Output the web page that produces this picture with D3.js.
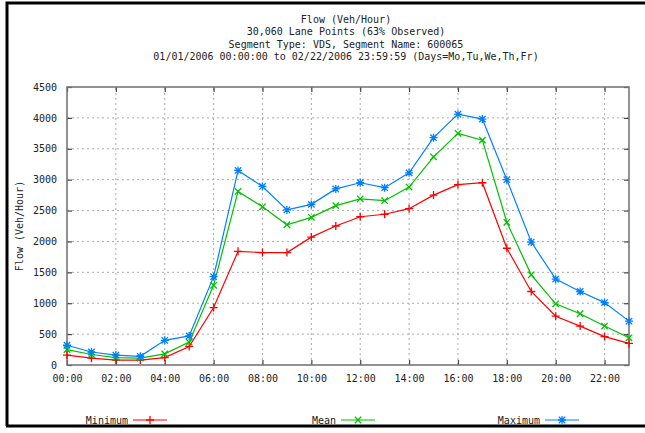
<!DOCTYPE html>
<html>
<head>
<meta charset="utf-8">
<script src="https://cdn.jsdelivr.net/npm/d3@7"></script>
<style>
    body { margin: 0; background: #fff; }
    text { font-family: "DejaVu Sans Mono", monospace; font-size: 10px; fill: #222; }
</style>
</head>
<body>
<div class="js-chart"></div>
<script>
'use strict';

//chart data
var hours = d3.range(0, 24);
var xTickHours = [0, 2, 4, 6, 8, 10, 12, 14, 16, 18, 20, 22];
var xTickLabels = ['00:00', '02:00', '04:00', '06:00', '08:00', '10:00',
    '12:00', '14:00', '16:00', '18:00', '20:00', '22:00'];
var yTicks = [0, 500, 1000, 1500, 2000, 2500, 3000, 3500, 4000, 4500];

var minimum = [160, 110, 80, 80, 120, 300, 930, 1840, 1820, 1820, 2070, 2250,
    2400, 2440, 2530, 2750, 2920, 2950, 1890, 1190, 790, 630, 460, 350];
var mean = [250, 170, 120, 110, 180, 370, 1290, 2810, 2560, 2270, 2390, 2580,
    2690, 2660, 2880, 3370, 3750, 3640, 2310, 1460, 990, 830, 630, 440];
var maximum = [320, 210, 160, 140, 400, 470, 1430, 3150, 2890, 2510, 2600, 2850,
    2950, 2870, 3110, 3680, 4060, 3980, 3000, 1990, 1390, 1190, 1010, 710];

var titleLines = [
    'Flow (Veh/Hour)',
    '30,060 Lane Points (63% Observed)',
    'Segment Type: VDS, Segment Name: 600065',
    '01/01/2006 00:00:00 to 02/22/2006 23:59:59 (Days=Mo,Tu,We,Th,Fr)'
];

var series = [
    { name: 'Minimum', values: minimum, color: '#ff0000', marker: 'plus', legendX: 128 },
    { name: 'Mean', values: mean, color: '#00c000', marker: 'cross', legendX: 336 },
    { name: 'Maximum', values: maximum, color: '#0080ff', marker: 'star', legendX: 540 }
];

var W = 645, H = 433;
var margin = { left: 67, top: 87, right: 16, bottom: 68 };

var svg = d3.select('.js-chart').append('svg')
    .attr('width', W)
    .attr('height', H);

//outer frame (left, top, bottom only - picture is cropped on the right)
svg.append('path')
    .attr('d', 'M 7 426 V 3 H ' + W)
    .style('fill', 'none')
    .style('stroke', '#000')
    .style('stroke-width', 3);
svg.append('line')
    .attr('x1', 6).attr('x2', W)
    .attr('y1', 426).attr('y2', 426)
    .style('stroke', '#000')
    .style('stroke-width', 3);

var x = d3.scaleLinear().domain([0, 23]).range([margin.left, W - margin.right]);
var y = d3.scaleLinear().domain([0, 4500]).range([H - margin.bottom, margin.top]);

//title
svg.append('g').selectAll('text')
    .data(titleLines)
    .enter()
    .append('text')
    .attr('x', 346)
    .attr('y', function (d, i) { return 23 + i * 12.4; })
    .attr('text-anchor', 'middle')
    .style('fill', '#222')
    .text(function (d) { return d; });

//grid lines (dotted)
var grid = svg.append('g');
grid.selectAll('.gx').data(xTickHours.slice(1)).enter().append('line')
    .attr('x1', function (d) { return x(d); })
    .attr('x2', function (d) { return x(d); })
    .attr('y1', y(0)).attr('y2', y(4500))
    .style('stroke', '#aaa')
    .style('stroke-dasharray', '2,3');
grid.selectAll('.gy').data(yTicks.slice(1, -1)).enter().append('line')
    .attr('x1', x(0)).attr('x2', x(23))
    .attr('y1', function (d) { return y(d); })
    .attr('y2', function (d) { return y(d); })
    .style('stroke', '#aaa')
    .style('stroke-dasharray', '2,3');

//axes with inward ticks
var axisBottom = d3.axisBottom(x)
    .tickValues(xTickHours)
    .tickSize(-5)
    .tickPadding(10)
    .tickFormat(function (d, i) { return xTickLabels[i]; });
var axisTop = d3.axisTop(x).tickValues(xTickHours).tickSize(-5).tickFormat('');
var axisLeft = d3.axisLeft(y).tickValues(yTicks).tickSize(-5).tickPadding(10)
    .tickFormat(d3.format('d'));
var axisRight = d3.axisRight(y).tickValues(yTicks).tickSize(-5).tickFormat('');

function styleAxis(g) {
    g.select('.domain').remove();
    g.selectAll('.tick line').style('stroke', '#444').style('stroke-width', 1.2);
    g.selectAll('.tick text')
        .style('font-family', '"DejaVu Sans Mono", monospace')
        .style('font-size', '10px')
        .style('fill', '#222');
}

svg.append('g').attr('transform', 'translate(0,' + y(0) + ')').call(axisBottom).call(styleAxis);
svg.append('g').attr('transform', 'translate(0,' + y(4500) + ')').call(axisTop).call(styleAxis);
svg.append('g').attr('transform', 'translate(' + x(0) + ',0)').call(axisLeft).call(styleAxis);
svg.append('g').attr('transform', 'translate(' + x(23) + ',0)').call(axisRight).call(styleAxis);

//plot border
svg.append('rect')
    .attr('x', x(0))
    .attr('y', y(4500))
    .attr('width', x(23) - x(0))
    .attr('height', y(0) - y(4500))
    .style('fill', 'none')
    .style('stroke', '#777')
    .style('stroke-width', 1.6);

//y axis title
svg.append('text')
    .attr('transform', 'translate(23,226) rotate(-90)')
    .attr('text-anchor', 'middle')
    .style('fill', '#222')
    .text('Flow (Veh/Hour)');

//marker shapes as path strings
function markerPath(type, cx, cy) {
    var s = 4;
    var plus = 'M ' + (cx - s) + ' ' + cy + ' H ' + (cx + s) +
        ' M ' + cx + ' ' + (cy - s) + ' V ' + (cy + s);
    var k = 3.2;
    var cross = 'M ' + (cx - k) + ' ' + (cy - k) + ' L ' + (cx + k) + ' ' + (cy + k) +
        ' M ' + (cx - k) + ' ' + (cy + k) + ' L ' + (cx + k) + ' ' + (cy - k);
    if (type === 'plus') { return plus; }
    if (type === 'cross') { return cross; }
    return plus + ' ' + cross;
}

var line = d3.line()
    .x(function (d, i) { return x(hours[i]); })
    .y(function (d) { return y(d); });

series.forEach(function (s) {
    var g = svg.append('g');
    g.append('path')
        .datum(s.values)
        .attr('d', line)
        .style('fill', 'none')
        .style('stroke', s.color)
        .style('stroke-width', 1.2);
    g.selectAll('.mk').data(s.values).enter().append('path')
        .attr('d', function (d, i) { return markerPath(s.marker, x(hours[i]), y(d)); })
        .style('fill', 'none')
        .style('stroke', s.color)
        .style('stroke-width', 1.3);

    //legend entry
    var ly = 420;
    svg.append('text')
        .attr('x', s.legendX)
        .attr('y', ly + 3.5)
        .attr('text-anchor', 'end')
        .style('fill', '#222')
        .text(s.name);
    svg.append('line')
        .attr('x1', s.legendX + 5).attr('x2', s.legendX + 39)
        .attr('y1', ly).attr('y2', ly)
        .style('stroke', s.color)
        .style('stroke-width', 1.2);
    svg.append('path')
        .attr('d', markerPath(s.marker, s.legendX + 22, ly))
        .style('fill', 'none')
        .style('stroke', s.color)
        .style('stroke-width', 1.3);
});
</script>
</body>
</html>
